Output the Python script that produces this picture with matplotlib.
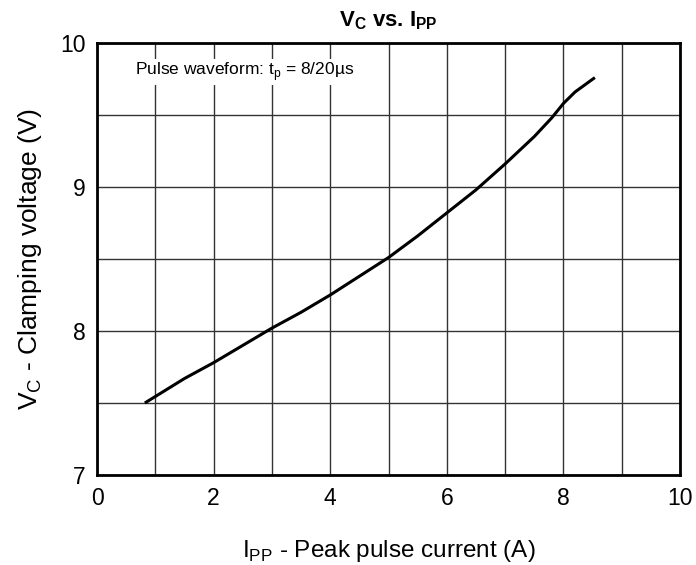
import matplotlib
matplotlib.use("Agg")
import matplotlib.pyplot as plt

# values
ipp = [0.82, 1.5, 2.0, 2.5, 3.0, 3.5, 4.0, 4.5, 5.0, 5.5, 6.0, 6.5, 7.0, 7.5, 7.8, 8.0, 8.2, 8.54]
vc = [7.50, 7.67, 7.78, 7.90, 8.02, 8.13, 8.25, 8.38, 8.51, 8.66, 8.82, 8.98, 9.16, 9.35, 9.48, 9.58, 9.66, 9.76]

x_ticks = [0, 2, 4, 6, 8, 10]
y_ticks = [7, 8, 9, 10]

plt.rcParams["font.family"] = ["Liberation Sans", "DejaVu Sans"]
plt.rcParams["mathtext.fontset"] = "custom"
plt.rcParams["mathtext.rm"] = "Liberation Sans"
plt.rcParams["mathtext.bf"] = "Liberation Sans:bold"

fig = plt.figure(figsize=(6.96, 5.65), dpi=100)
ax = fig.add_axes([0.1394, 0.1593, 0.8376, 0.7646])

ax.plot(ipp, vc, color="black", linewidth=2.2, solid_capstyle="butt")

ax.set_xlim(0, 10)
ax.set_ylim(7, 10)
ax.set_xticks(x_ticks)
ax.set_yticks(y_ticks)
ax.set_xticks(range(0, 11), minor=True)
ax.set_yticks([7.5, 8.5, 9.5], minor=True)
ax.grid(True, which="both", color="#333333", linewidth=1.0)
ax.tick_params(which="both", length=0, labelsize=16.5)
ax.tick_params(axis="x", pad=9)
ax.tick_params(axis="y", pad=8)
for s in ax.spines.values():
    s.set_linewidth(2.0)

ax.set_title(r"$\mathbf{V_C}$ vs. $\mathbf{I_{PP}}$", fontsize=16, fontweight="bold", pad=12)
ax.set_xlabel(r"I$_\mathregular{PP}$ - Peak pulse current (A)", fontsize=17.5, labelpad=20)
ax.set_ylabel(r"V$_\mathregular{C}$ - Clamping voltage (V)", fontsize=19, labelpad=12)
ax.text(0.65, 9.8, r"Pulse waveform: t$_\mathregular{p}$ = 8/20µs", fontsize=12.5,
        va="center", ha="left",
        bbox=dict(facecolor="white", edgecolor="none", pad=1))

fig.savefig("out.png", dpi=100)
